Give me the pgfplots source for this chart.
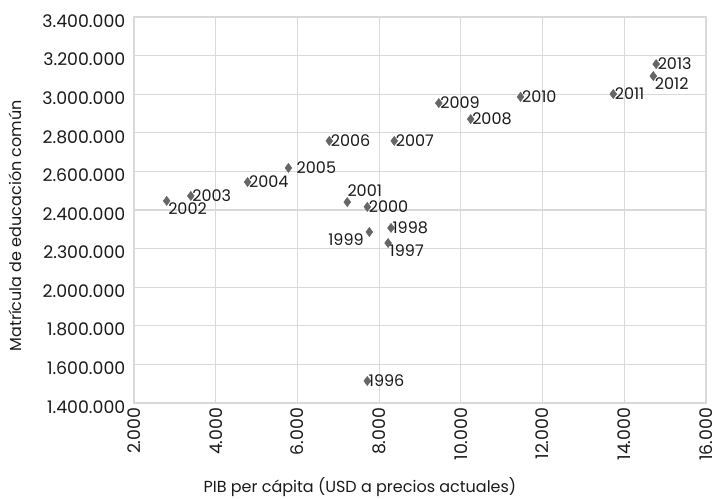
\documentclass[border=0pt]{standalone}
\usepackage{pgfplots}
\pgfplotsset{compat=1.18}
\usepackage{fontspec}
\setmainfont{Poppins}
\definecolor{gridc}{HTML}{D9D9D9}
\definecolor{markc}{HTML}{666666}
\definecolor{txt}{HTML}{1A1A1A}
\begin{document}
\begin{tikzpicture}
\begin{axis}[
  scale only axis, width=429pt, height=289.5pt,
  xmin=2000, xmax=16000, ymin=1400000, ymax=3400000,
  scaled ticks=false,
  xtick={2000,4000,6000,8000,10000,12000,14000,16000},
  xticklabels={2.000,4.000,6.000,8.000,10.000,12.000,14.000,16.000},
  ytick={1400000,1600000,1800000,2000000,2200000,2400000,2600000,2800000,3000000,3200000,3400000},
  yticklabels={1.400.000,1.600.000,1.800.000,2.000.000,2.300.000,2.400.000,2.600.000,2.800.000,3.000.000,3.200.000,3.400.000},
  grid=major, major grid style={gridc, line width=0.9pt},
  axis line style={gridc, line width=0.9pt},
  major tick length=0pt,
  tick label style={font=\fontsize{13}{15}\selectfont, text=txt},
  xticklabel style={rotate=90, anchor=east},
  yticklabel style={xshift=-3pt, yshift=-3pt},
  ylabel={Matrícula de educación común},
  xlabel={PIB per cápita (USD a precios actuales)},
  label style={font=\fontsize{12}{14}\selectfont, text=txt},
  ylabel style={at={(axis description cs:-0.207,0.459)}, anchor=center},
  xlabel style={at={(axis description cs:0.395,-0.218)}, anchor=center},
  clip=false,
  only marks,
  mark=diamond*, mark size=3.4pt,
  every mark/.append style={fill=markc, draw=markc},
  point meta=explicit symbolic,
  nodes near coords,
  every node near coord/.append style={font=\fontsize{12}{14}\selectfont, text=txt, inner sep=1pt},
]
% labels to the right
\addplot+[mark=diamond*, markc, nodes near coords style={anchor=west}] coordinates {
  (7710,1514000) [1996]
  (8290,2307000) [1998]
  (7710,2416000) [2000]
  (3390,2473000) [2003]
  (4780,2545000) [2004]
  (6780,2758000) [2006]
  (8370,2758000) [2007]
  (10240,2871000) [2008]
  (9460,2954000) [2009]
  (11460,2986000) [2010]
  (13730,3001000) [2011]
  (14780,3156000) [2013]
};
% labels below right
\addplot+[mark=diamond*, markc, nodes near coords style={anchor=north west}] coordinates {
  (8220,2229000) [1997]
  (2800,2447000) [2002]
  (14710,3094000) [2012]
};
% label left
\addplot+[mark=diamond*, markc, nodes near coords style={anchor=north east, xshift=-3pt}] coordinates {
  (7760,2286000) [1999]
};
% label above
\addplot+[mark=diamond*, markc, nodes near coords style={anchor=south west, xshift=-1pt, yshift=3pt}] coordinates {
  (7220,2441000) [2001]
};
% label right with gap
\addplot+[mark=diamond*, markc, nodes near coords style={anchor=west, xshift=5pt}] coordinates {
  (5780,2618000) [2005]
};
\end{axis}
\pgfresetboundingbox
\path[use as bounding box] (-100.5pt,-72pt) rectangle (438pt,302.25pt);
\end{tikzpicture}
\end{document}
